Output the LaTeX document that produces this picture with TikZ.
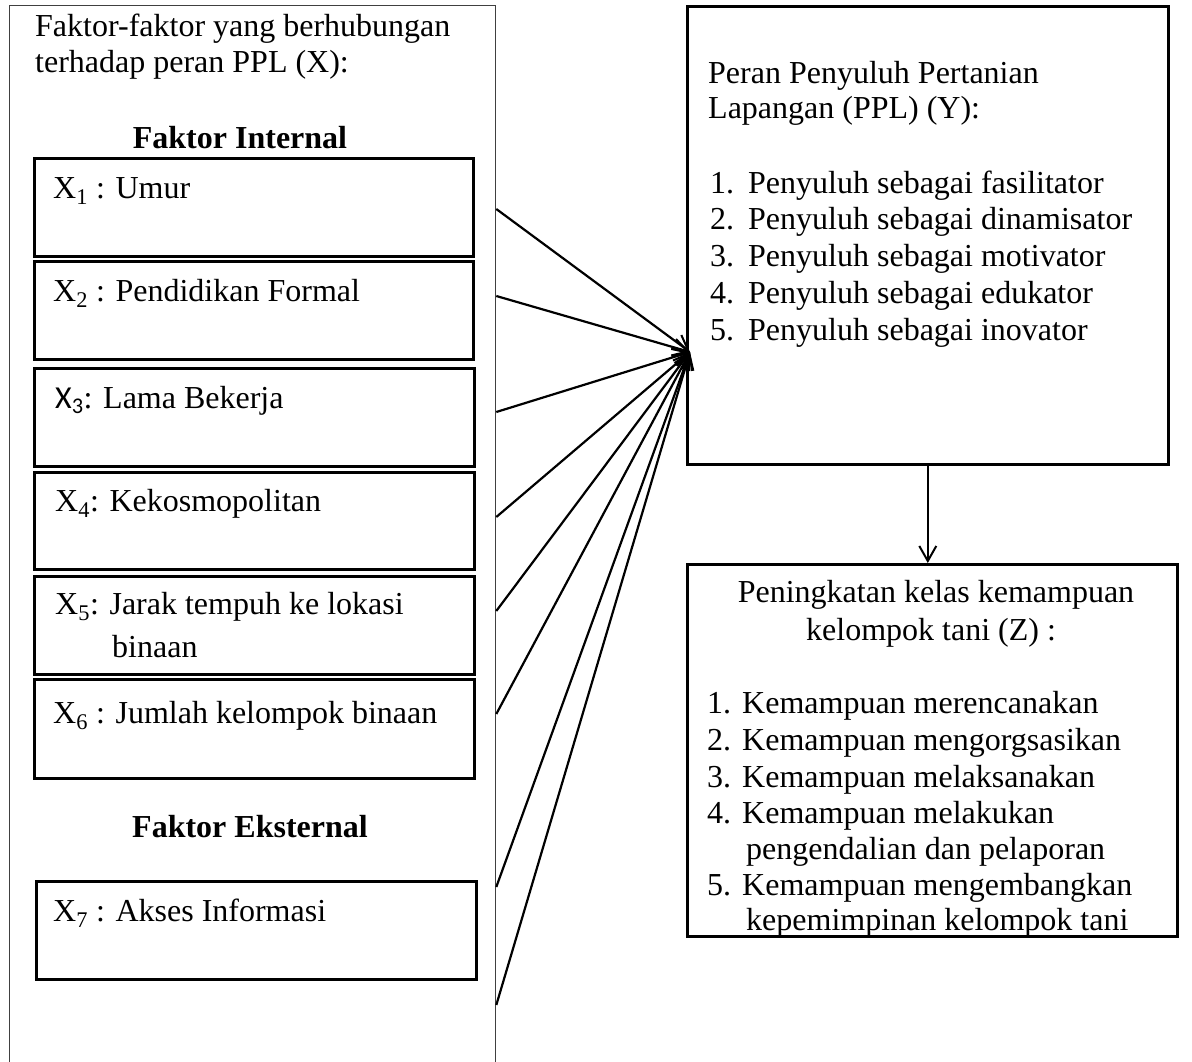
\documentclass[tikz,border=0pt]{standalone}
\usepackage{fontspec}
\setmainfont{Liberation Serif}
\newfontfamily\carl{Carlito}
\usetikzlibrary{arrows.meta}
\begin{document}
\begin{tikzpicture}[x=1pt,y=-1pt,
  txt/.style={inner sep=0pt, font=\fontsize{32}{36}\selectfont, anchor=base west},
  ctxt/.style={txt, anchor=base},
  xbox/.style={draw, line width=2.6pt, inner sep=0pt, anchor=north west},
  outerbox/.style={draw=black!75, line width=1.3pt, inner sep=0pt, anchor=north west},
  barb/.style={-{Straight Barb[length=15pt,width=17pt,line width=2pt]}},
  fan/.style={barb, line width=2.2pt},
]
\useasboundingbox (0,0) rectangle (1192,1061);
\clip (0,0) rectangle (1192,1061);
\fill[white] (0,0) rectangle (1192,1061);

% left outer box
\node[outerbox, minimum width=486pt, minimum height=1090pt] (L) at (9,5) {};
\node[txt] (h1) at (35,36) {Faktor-faktor yang berhubungan};
\node[txt] (h2) at (35,72) {terhadap peran PPL (X):};
\node[ctxt] (fi) at (240,148) {\bfseries Faktor Internal};

% inner boxes
\node[xbox, minimum width=439pt, minimum height=98pt] (B1) at (33,157) {};
\node[xbox, minimum width=439pt, minimum height=98pt] (B2) at (33,260) {};
\node[xbox, minimum width=440pt, minimum height=98pt] (B3) at (33,367) {};
\node[xbox, minimum width=440pt, minimum height=97pt] (B4) at (33,471) {};
\node[xbox, minimum width=440pt, minimum height=98pt] (B5) at (33,575) {};
\node[xbox, minimum width=440pt, minimum height=99pt] (B6) at (33,678) {};
\node[xbox, minimum width=440pt, minimum height=98pt] (B7) at (35,880) {};

\node[txt] (x1) at (53,198) {X\textsubscript{1} : Umur};
\node[txt] (x2) at (53,301) {X\textsubscript{2} : Pendidikan Formal};
\node[txt] (x3) at (55,408) {{\carl X\textsubscript{3}}: Lama Bekerja};
\node[txt] (x4) at (55,511) {X\textsubscript{4}: Kekosmopolitan};
\node[txt] (x5) at (55,614) {X\textsubscript{5}: Jarak tempuh ke lokasi};
\node[txt] (x5b) at (112,657) {binaan};
\node[txt] (x6) at (53,723) {X\textsubscript{6} : Jumlah kelompok binaan};
\node[ctxt] (fe) at (250,837) {\bfseries Faktor Eksternal};
\node[txt] (x7) at (53,921) {X\textsubscript{7} : Akses Informasi};

% Y box
\node[xbox, minimum width=481pt, minimum height=458pt] (Y) at (686,5) {};
\node[txt] (y0a) at (708,83) {Peran Penyuluh Pertanian};
\node[txt] (y0b) at (708,118) {Lapangan (PPL) (Y):};
\foreach \t [count=\i] in {fasilitator,dinamisator,motivator,edukator,inovator}{
  \node[txt] (yn\i) at (710,{193+36.8*(\i-1)}) {\i.};
  \node[txt] (yt\i) at (748,{193+36.8*(\i-1)}) {Penyuluh sebagai \t};
}

% Z box
\node[xbox, minimum width=490pt, minimum height=372pt] (Z) at (686,563) {};
\node[ctxt] (z0a) at (936,602) {Peningkatan kelas kemampuan};
\node[ctxt] (z0b) at (931,640) {kelompok tani (Z) :};
\node[txt] (zn1) at (707,713) {1.};
\node[txt] (zt1) at (742,713) {Kemampuan merencanakan};
\node[txt] (zn2) at (707,750) {2.};
\node[txt] (zt2) at (742,750) {Kemampuan mengorgsasikan};
\node[txt] (zn3) at (707,787) {3.};
\node[txt] (zt3) at (742,787) {Kemampuan melaksanakan};
\node[txt] (zn4) at (707,823) {4.};
\node[txt] (zt4) at (742,823) {Kemampuan melakukan};
\node[txt] (zt4b) at (746,859) {pengendalian dan pelaporan};
\node[txt] (zn5) at (707,895) {5.};
\node[txt] (zt5) at (742,895) {Kemampuan mengembangkan};
\node[txt] (zt5b) at (746,930) {kepemimpinan kelompok tani};

% fan of arrows
\coordinate (hub) at (690,352);
\foreach \yy [count=\i] in {209,296,412,517,611,714,887,1005}{
  \coordinate (s\i) at (L.north east |- 0,\yy);
  \draw[fan] (s\i) -- (hub);
}

% Y to Z
\draw[barb, line width=2pt] (Y.south) -- (Y.south |- Z.north);
\end{tikzpicture}
\end{document}
